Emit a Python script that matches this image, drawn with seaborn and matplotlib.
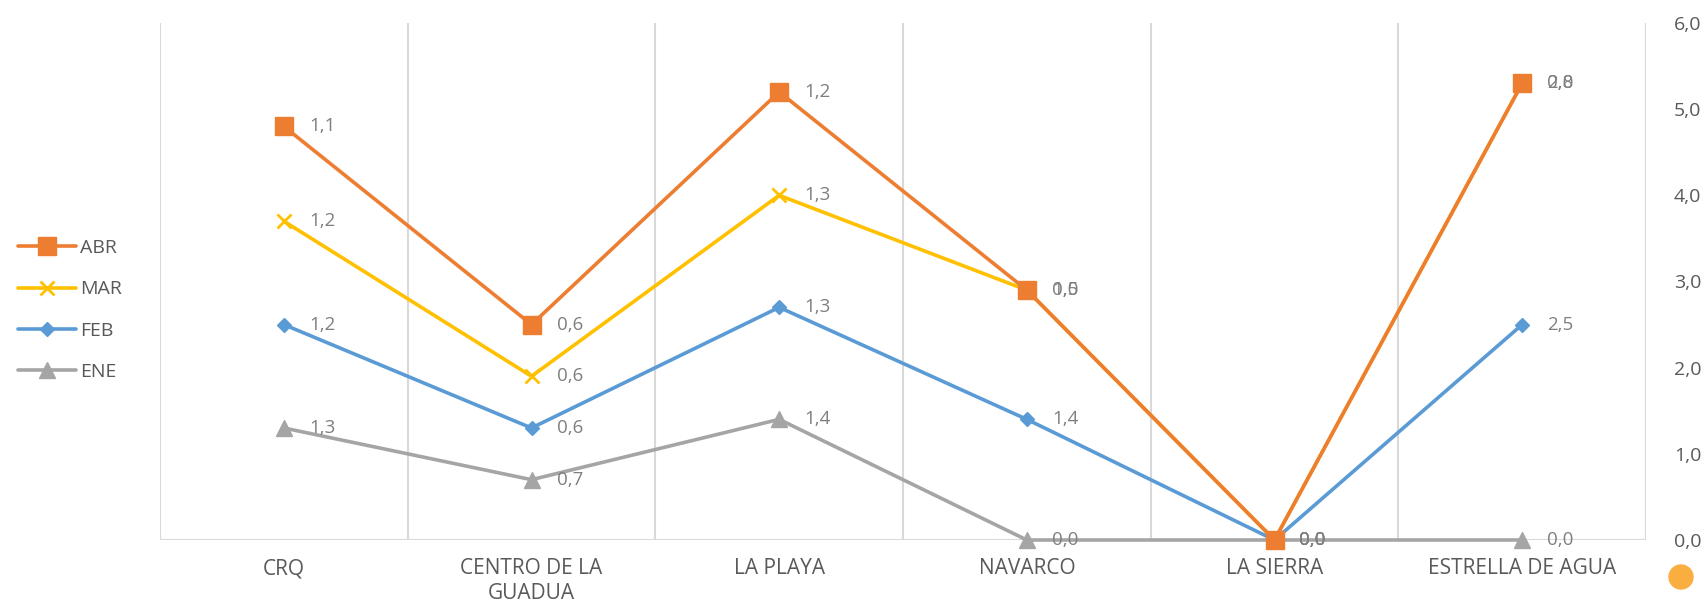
import numpy as np
import pandas as pd
import seaborn as sns
import matplotlib.pyplot as plt
from matplotlib.lines import Line2D
from matplotlib.patches import Ellipse

# ------------------------
# Data (monthly values per station, stacked line chart)
# ------------------------
stations = ['CRQ', 'CENTRO DE LA\nGUADUA', 'LA PLAYA', 'NAVARCO', 'LA SIERRA', 'ESTRELLA DE AGUA']
months = ['ENE', 'FEB', 'MAR', 'ABR']
ene = [1.3, 0.7, 1.4, 0.0, 0.0, 0.0]
feb = [1.2, 0.6, 1.3, 1.4, 0.0, 2.5]
mar = [1.2, 0.6, 1.3, 1.5, 0.0, 2.8]
abr = [1.1, 0.6, 1.2, 0.0, 0.0, 0.0]
y_ticks = [0, 1, 2, 3, 4, 5, 6]

colors = {'ENE': '#A5A5A5', 'FEB': '#5B9BD5', 'MAR': '#FFC000', 'ABR': '#ED7D31'}
markers = {'ENE': '^', 'FEB': 'D', 'MAR': 'x', 'ABR': 's'}
msizes = {'ENE': 11, 'FEB': 7.5, 'MAR': 10, 'ABR': 12.5}

values = {'ENE': ene, 'FEB': feb, 'MAR': mar, 'ABR': abr}

# build long frame with cumulative (stacked) values
rows = []
running = np.zeros(len(stations))
for m in months:
    v = np.array(values[m])
    running = running + v
    for i, s in enumerate(stations):
        rows.append({'pos': i, 'station': s, 'mes': m, 'valor': v[i], 'acum': running[i]})
df = pd.DataFrame(rows)

# ------------------------
# Plot
# ------------------------
sns.set_style('white')
plt.rcParams['font.family'] = ['Open Sans', 'DejaVu Sans']

fig = plt.figure(figsize=(17.02, 6.03), dpi=100)
ax = fig.add_axes([160 / 1702, 63 / 603, 1486 / 1702, 517 / 603])

for k, m in enumerate(months):
    d = df[df['mes'] == m]
    sns.lineplot(data=d, x='pos', y='acum', ax=ax, color=colors[m], lw=2.6,
                 marker=markers[m], markersize=msizes[m], markeredgecolor=colors[m],
                 markeredgewidth=2 if m == 'MAR' else 1, sort=False, zorder=3 + k,
                 clip_on=False)
    for _, r in d.iterrows():
        lab = f"{r['valor']:.1f}".replace('.', ',')
        ax.annotate(lab, (r['pos'], r['acum']), xytext=(18, 0), textcoords='offset points',
                    ha='left', va='center', fontsize=13.5, color='#7f7f7f', zorder=10)

ax.set_xlim(-0.5, len(stations) - 0.5)
ax.set_ylim(0, 6)
for b in np.arange(-0.5, len(stations), 1.0):
    ax.axvline(b, color='#d9d9d9', lw=1.5, zorder=1)
ax.axhline(0, color='#d9d9d9', lw=1.5, zorder=1)

for sp in ax.spines.values():
    sp.set_visible(False)

ax.set_xticks(range(len(stations)))
ax.set_xticklabels(stations, fontsize=15, color='#595959', linespacing=1.25)
ax.yaxis.tick_right()
ax.set_yticks(y_ticks)
ax.set_yticklabels([f"{t:.1f}".replace('.', ',') for t in y_ticks], fontsize=14, color='#595959')
ax.tick_params(axis='y', length=0, pad=20)
ax.tick_params(axis='x', length=0, pad=13)
ax.set_xlabel('')
ax.set_ylabel('')

# legend on the left (ABR on top)
handles = [Line2D([0], [0], color=colors[m], lw=2.6, marker=markers[m], markersize=msizes[m],
                  markeredgecolor=colors[m], markeredgewidth=2 if m == 'MAR' else 1)
           for m in months[::-1]]
fig.legend(handles, months[::-1], loc='center left', bbox_to_anchor=(0.0, 1 - 310 / 603),
           frameon=False, fontsize=14, labelcolor='#595959', handlelength=3.0,
           handletextpad=0.2, labelspacing=1.2)

# small orange dot at the bottom right corner
fig.patches.append(Ellipse((1681 / 1702, 1 - 577 / 603), 24 / 1702, 24 / 603,
                           transform=fig.transFigure, color='#FBAE40', figure=fig))

plt.savefig('out.png', dpi=100)
